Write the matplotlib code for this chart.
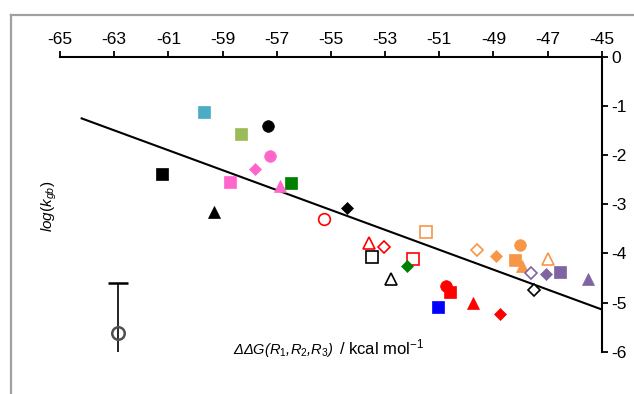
import matplotlib
matplotlib.use("Agg")
import matplotlib.pyplot as plt
from matplotlib.lines import Line2D

plt.rcParams['font.family'] = ['Liberation Sans', 'DejaVu Sans']
plt.rcParams['mathtext.fontset'] = 'custom'
plt.rcParams['mathtext.rm'] = 'Liberation Sans'
plt.rcParams['mathtext.it'] = 'Liberation Sans:italic'

# data: ddG (kcal/mol) vs log(k_gb)
dg = [-59.69, -57.31, -58.33, -57.23, -57.80, -58.71, -56.88, -56.46,
      -59.30, -55.24, -54.40, -61.22,
      -53.61, -53.04, -53.49, -51.95, -52.20, -52.78, -51.50,
      -50.75, -50.60, -51.05, -49.76,
      -49.61, -48.90, -48.00, -48.22, -47.93, -46.99,
      -47.61, -47.06, -46.54, -45.50, -47.50, -48.75]
logk = [-1.11, -1.41, -1.57, -2.02, -2.29, -2.54, -2.62, -2.57,
        -3.16, -3.29, -3.07, -2.39,
        -3.79, -3.86, -4.07, -4.12, -4.25, -4.51, -3.56,
        -4.66, -4.78, -5.10, -5.00,
        -3.92, -4.05, -3.83, -4.13, -4.25, -4.12,
        -4.39, -4.41, -4.37, -4.52, -4.75, -5.23]

# style per point
markers = ['s', 'o', 's', 'o', 'D', 's', '^', 's',
           '^', 'o', 'D', 's',
           '^', 'D', 's', 's', 'D', '^', 's',
           'o', 's', 's', '^',
           'D', 'D', 'o', 's', '^', '^',
           'D', 'D', 's', '^', 'D', 'D']
colors = ['#4BACC6', 'k', '#9BBB59', '#FF66CC', '#FF66CC', '#FF66CC', '#FF66CC', '#008000',
          'k', '#FF0000', 'k', 'k',
          '#FF0000', '#FF0000', 'k', '#FF0000', '#008000', 'k', '#F79646',
          '#FF0000', '#FF0000', '#0000FF', '#FF0000',
          '#F79646', '#F79646', '#F79646', '#F79646', '#F79646', '#F79646',
          '#8064A2', '#8064A2', '#8064A2', '#8064A2', 'k', '#FF0000']
filled = [1, 1, 1, 1, 1, 1, 1, 1,
          1, 0, 1, 1,
          0, 0, 0, 0, 1, 0, 0,
          1, 1, 1, 1,
          0, 1, 1, 1, 1, 0,
          0, 1, 1, 1, 0, 1]

# regression line end points
fit_x = [-64.2, -45.0]
fit_y = [-1.25, -5.14]

# typical error bar
err_x = [-62.87]
err_y = [-5.61]
err_size = [1.0]

msize = {'s': 8.6, 'o': 8.4, 'D': 6.4, '^': 8.6}

fig = plt.figure(figsize=(6.34, 3.94), dpi=100)
ax = fig.add_axes([0.0946, 0.1074, 0.9491 - 0.0946, 0.8553 - 0.1074])

ax.plot(fit_x, fit_y, color='k', lw=1.5, zorder=2)

for x, y, m, c, f in zip(dg, logk, markers, colors, filled):
    if f:
        ax.plot(x, y, marker=m, color=c, ms=msize[m], mec=c, mew=0.5, ls='none', zorder=3)
    else:
        ax.plot(x, y, marker=m, mfc='white', mec=c, ms=msize[m], mew=1.2, ls='none', zorder=3)

ax.errorbar(err_x, err_y, yerr=err_size, fmt='o', mfc='none', mec='#505050', mew=1.8,
            ms=9, ecolor='k', elinewidth=1.2, capsize=7, capthick=1.2, zorder=3)

ax.set_xlim(-65, -45)
ax.set_ylim(-6, 0)
ax.set_xticks(range(-65, -44, 2))
ax.set_yticks(range(-6, 1))
ax.set_xticklabels([str(v) for v in range(-65, -44, 2)])
ax.set_yticklabels([str(v) for v in range(-6, 1)])

ax.spines['left'].set_visible(False)
ax.spines['bottom'].set_visible(False)
ax.spines['top'].set_linewidth(1.5)
ax.spines['right'].set_linewidth(1.5)
ax.xaxis.tick_top()
ax.yaxis.tick_right()
ax.tick_params(axis='both', direction='out', length=4, width=1.3, labelsize=12.5, pad=3)

fig.text(0.078, 0.477, r'$log(k_{gb})$', rotation=90, ha='center', va='center', fontsize=11)
fig.text(0.527, 0.1015, r'ΔΔG(R$_1$,R$_2$,R$_3$)', style='italic', ha='right', va='baseline', fontsize=10.5)
fig.text(0.535, 0.1015, r'/ kcal mol$^{\mathrm{-1}}$', ha='left', va='baseline', fontsize=12)

# gray frame around the figure
fig.add_artist(Line2D([11 / 634, 11 / 634], [0, 1 - 15 / 394], color='#A0A0A0', lw=1.6,
                      transform=fig.transFigure))
fig.add_artist(Line2D([11 / 634, 1], [1 - 15 / 394, 1 - 15 / 394], color='#A0A0A0', lw=1.6,
                      transform=fig.transFigure))

fig.savefig('out.png', dpi=100)
